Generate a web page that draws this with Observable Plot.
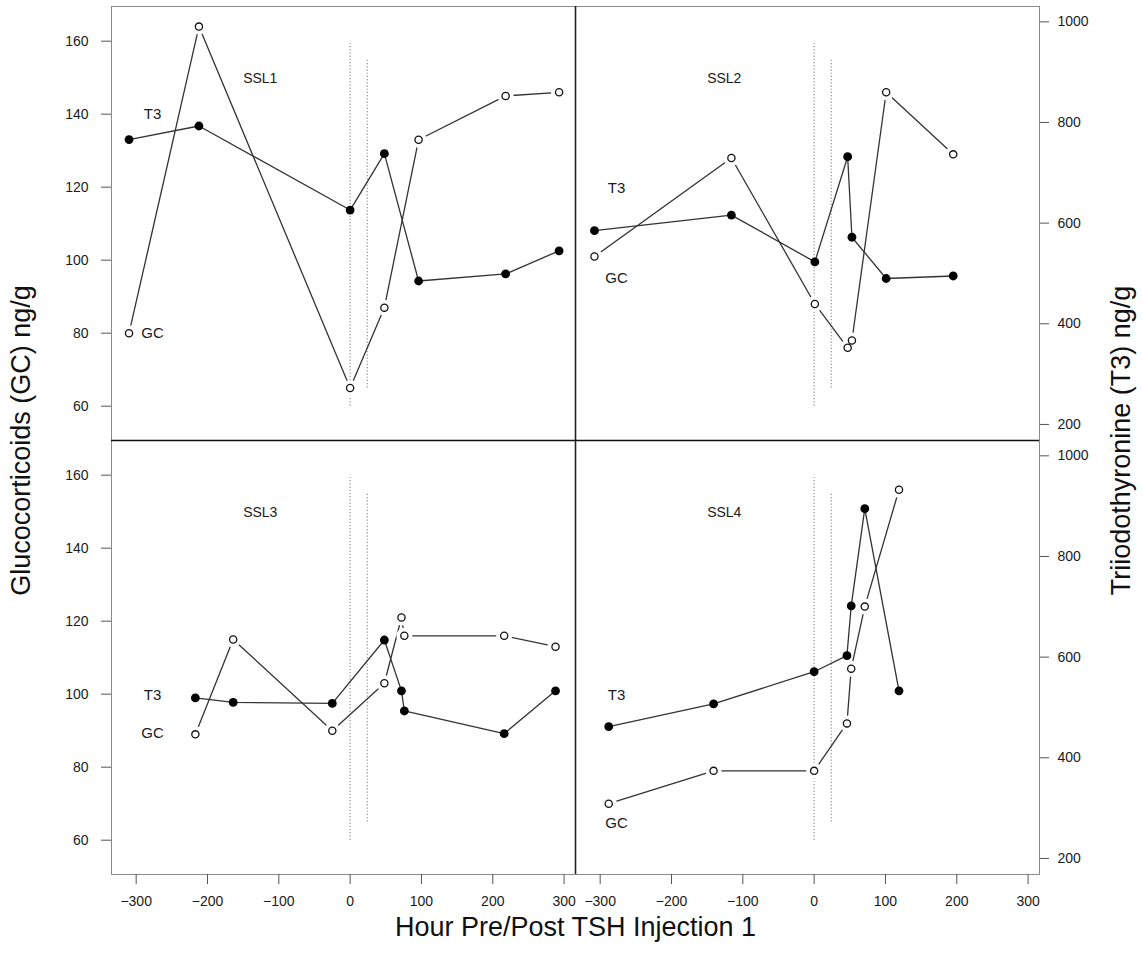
<!DOCTYPE html>
<html>
<head>
<meta charset="utf-8">
<script src="https://cdn.jsdelivr.net/npm/d3@7"></script>
<script src="https://cdn.jsdelivr.net/npm/@observablehq/plot@0.6"></script>
<style>
  html, body { margin: 0; padding: 0; background: #ffffff; }
  #chart svg { display: block; }
</style>
</head>
<body>
<div id="chart"></div>
<script>
// ---- Data ----
const panelNames = ["SSL1", "SSL2", "SSL3", "SSL4"];
const panelColumns = ["L", "R", "L", "R"];
const panelRows = ["T", "T", "B", "B"];

const hoursSSL1 = [-310, -212, 0, 48, 96, 218, 293];
const gcSSL1    = [80, 164, 65, 87, 133, 145, 146];
const t3SSL1    = [766, 793, 626, 738, 485, 499, 545];

const hoursSSL2 = [-308, -116, 1, 47, 53, 101, 195];
const gcSSL2    = [101, 128, 88, 76, 78, 146, 129];
const t3SSL2    = [585, 616, 523, 732, 572, 490, 495];

const hoursSSL3 = [-217, -164, -25, 48, 72, 76, 216, 288];
const gcSSL3    = [89, 115, 90, 103, 121, 116, 116, 113];
const t3SSL3    = [519, 510, 508, 634, 533, 493, 448, 533];

const hoursSSL4 = [-288, -141, 0, 46, 52, 71, 119];
const gcSSL4    = [70, 79, 79, 92, 107, 124, 156];
const t3SSL4    = [462, 507, 571, 603, 702, 895, 533];

// series label anchors (hour, GC-scale level)
const labelHour   = -277;
const t3LabelGc   = [140, 119.6, 99.7, 99.7];
const gcLabelGc   = [80, 95, 89.4, 64.6];
const panelLabelHour = -126;
const panelLabelGc   = 149.8;

// injection markers (dotted lines)
const injectionHours  = [0, 24];
const injectionGcFrom = [60, 65];
const injectionGcTo   = [160, 155];

// ticks
const hourTicks = [-300, -200, -100, 0, 100, 200, 300];
const gcTicks   = [60, 80, 100, 120, 140, 160];
const t3Ticks   = [200, 400, 600, 800, 1000];

// scale domains
const hourDomain = [-334.6, 316];
const gcDomain   = [50.6, 169.5];
// secondary axis: T3 value -> position on the GC scale
const t3Low = 200, t3High = 1000, gcAtT3Low = 55, gcAtT3High = 165.3;
const t3ToGc = v => gcAtT3Low + (v - t3Low) * (gcAtT3High - gcAtT3Low) / (t3High - t3Low);
const gcToT3 = g => t3Low + (g - gcAtT3Low) * (t3High - t3Low) / (gcAtT3High - gcAtT3Low);

// ---- Build tables ----
const hoursAll = [hoursSSL1, hoursSSL2, hoursSSL3, hoursSSL4];
const gcAll = [gcSSL1, gcSSL2, gcSSL3, gcSSL4];
const t3All = [t3SSL1, t3SSL2, t3SSL3, t3SSL4];

const rows = [];
panelNames.forEach((name, i) => {
  hoursAll[i].forEach((h, j) => {
    rows.push({panel: name, col: panelColumns[i], row: panelRows[i], hour: h, gc: gcAll[i][j], t3: t3All[i][j]});
  });
});

const labels = [];
panelNames.forEach((name, i) => {
  labels.push({col: panelColumns[i], row: panelRows[i], hour: panelLabelHour, level: panelLabelGc, text: name, size: 14});
  labels.push({col: panelColumns[i], row: panelRows[i], hour: labelHour, level: t3LabelGc[i], text: "T3", size: 15});
  labels.push({col: panelColumns[i], row: panelRows[i], hour: labelHour, level: gcLabelGc[i], text: "GC", size: 15});
});

const injections = injectionHours.map((h, i) => ({hour: h, from: injectionGcFrom[i], to: injectionGcTo[i]}));

const fx = d => d.col;
const fy = d => d.row;
const t3y = d => t3ToGc(d.t3);

const font = "'Liberation Sans', Arial, Helvetica, sans-serif";

const chart = Plot.plot({
  width: 1143,
  height: 956,
  marginLeft: 110.7,
  marginRight: 104,
  marginTop: 6,
  marginBottom: 82,
  style: {fontFamily: font, fontSize: "14px", color: "#1a1a1a", background: "#ffffff"},
  fx: {domain: ["L", "R"], padding: 0, axis: null},
  fy: {domain: ["T", "B"], padding: 0, axis: null},
  x: {domain: hourDomain},
  y: {domain: gcDomain},
  marks: [
    Plot.frame({stroke: "#8a8a8a", strokeWidth: 1}),
    Plot.ruleX(injections, {x: "hour", y1: "from", y2: "to", stroke: "#8f8f8f", strokeWidth: 1.2, strokeDasharray: "1.2,2"}),
    // GC series (open circles)
    Plot.line(rows, {x: "hour", y: "gc", z: "panel", fx, fy, stroke: "#333", strokeWidth: 1.3}),
    Plot.dot(rows, {x: "hour", y: "gc", fx, fy, r: 8, fill: "#ffffff", stroke: "none"}),
    Plot.dot(rows, {x: "hour", y: "gc", fx, fy, r: 3.6, fill: "#ffffff", stroke: "#111", strokeWidth: 1.3}),
    // T3 series (filled circles)
    Plot.line(rows, {x: "hour", y: t3y, z: "panel", fx, fy, stroke: "#333", strokeWidth: 1.3}),
    Plot.dot(rows, {x: "hour", y: t3y, fx, fy, r: 4.4, fill: "#000", stroke: "none"}),
    // labels
    Plot.text(labels, {x: "hour", y: "level", fx, fy, text: "text", fontSize: "size", fill: "#1a1a1a", textAnchor: "middle", lineAnchor: "middle"}),
    // panel dividers
    Plot.ruleX([hourDomain[1]], {fx: () => "L", stroke: "#222", strokeWidth: 1.6}),
    Plot.ruleY([gcDomain[0]], {fy: () => "T", stroke: "#111", strokeWidth: 1.6}),
    // axes
    Plot.axisY(gcTicks, {anchor: "left", facetAnchor: "left", tickSize: 10, tickPadding: 13, fontSize: 14, label: null, tickFormat: d => String(d), stroke: "#555", fill: "#1a1a1a"}),
    Plot.axisY(t3Ticks.map(t3ToGc), {anchor: "right", facetAnchor: "right", tickSize: 9, tickPadding: 9, fontSize: 14, label: null, tickFormat: d => String(Math.round(gcToT3(d))), stroke: "#555", fill: "#1a1a1a"}),
    Plot.axisX(hourTicks, {anchor: "bottom", facetAnchor: "bottom", tickSize: 10, tickPadding: 12, fontSize: 14, label: null, tickFormat: d => d < 0 ? "\u2212" + Math.abs(d) : String(d), stroke: "#555", fill: "#1a1a1a"}),
    // axis titles
    Plot.text(["Glucocorticoids (GC) ng/g"], {fx: () => "L", fy: () => "T", frameAnchor: "bottom-left", text: d => d, rotate: -90, dx: -90.5, fontSize: 27, textAnchor: "middle", lineAnchor: "middle", fill: "#111"}),
    Plot.text(["Triiodothyronine (T3) ng/g"], {fx: () => "R", fy: () => "T", frameAnchor: "bottom-right", text: d => d, rotate: -90, dx: 82, fontSize: 27, textAnchor: "middle", lineAnchor: "middle", fill: "#111"}),
    Plot.text(["Hour Pre/Post TSH Injection 1"], {fx: () => "L", fy: () => "B", frameAnchor: "bottom-right", text: d => d, dy: 53, fontSize: 27, textAnchor: "middle", lineAnchor: "middle", fill: "#111"})
  ]
});

document.getElementById("chart").appendChild(chart);
</script>
</body>
</html>
